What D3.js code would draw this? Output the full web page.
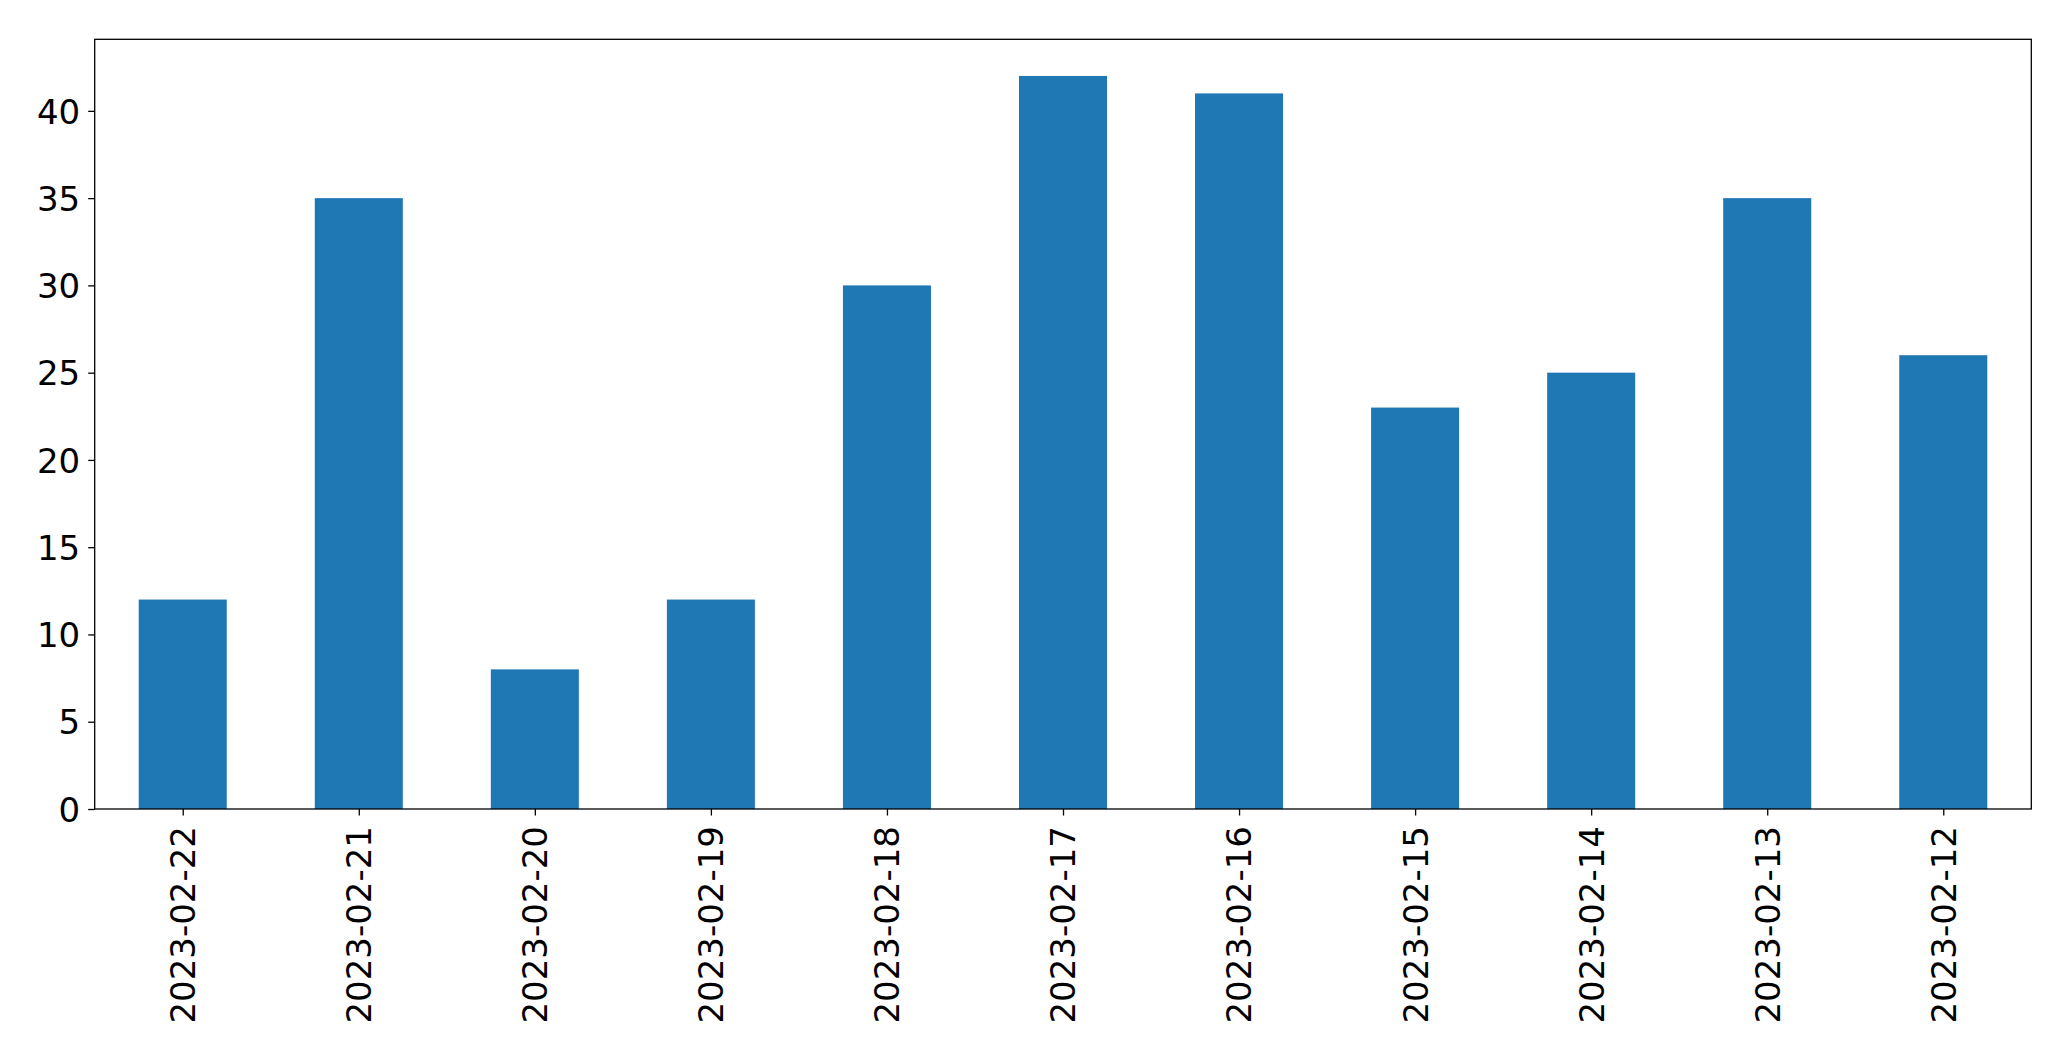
<!DOCTYPE html>
<html><head><meta charset="utf-8">
<script src="https://cdn.jsdelivr.net/npm/d3@7"></script>
<style>html,body{margin:0;padding:0;background:#fff;}svg{display:block;}</style>
</head><body>
<script>
const categories = ["2023-02-22","2023-02-21","2023-02-20","2023-02-19","2023-02-18","2023-02-17","2023-02-16","2023-02-15","2023-02-14","2023-02-13","2023-02-12"];
const values = [12, 35, 8, 12, 30, 42, 41, 23, 25, 35, 26];
const yTicks = [0, 5, 10, 15, 20, 25, 30, 35, 40];

const W = 2071, H = 1061;
const L = 94.7, R = 2031.3, T = 39.3, B = 809;
const svg = d3.select("body").append("svg").attr("width", W).attr("height", H);

const x = d3.scaleLinear().domain([-0.5, categories.length - 0.5]).range([L, R]);
const y = d3.scaleLinear().domain([0, d3.max(values) * 1.05]).range([B, T]);
const bw = 0.5;

svg.append("g").selectAll("rect").data(values).join("rect")
  .attr("x", (d, i) => x(i - bw / 2))
  .attr("width", (d, i) => x(i + bw / 2) - x(i - bw / 2))
  .attr("y", d => y(d))
  .attr("height", d => y(0) - y(d))
  .attr("fill", "#1f77b4");

const font = "DejaVu Sans";
const yAxis = d3.axisLeft(y).tickValues(yTicks).tickSize(6.5).tickPadding(8).tickFormat(d3.format("d"));
const gy = svg.append("g").attr("transform", `translate(${L},0)`).call(yAxis);
gy.select(".domain").remove();
gy.selectAll("line").attr("stroke", "#000").attr("stroke-width", 1.3);
gy.selectAll("text").attr("font-family", font).attr("font-size", 34).attr("fill", "#000").attr("dy", "0.36em");

const xAxis = d3.axisBottom(x).tickValues(d3.range(categories.length)).tickSize(6.5).tickFormat(i => categories[i]);
const gx = svg.append("g").attr("transform", `translate(0,${B})`).call(xAxis);
gx.select(".domain").remove();
gx.selectAll("line").attr("stroke", "#000").attr("stroke-width", 1.3);
gx.selectAll("text")
  .attr("font-family", font).attr("font-size", 34).attr("fill", "#000")
  .attr("text-anchor", "end")
  .attr("transform", "rotate(-90)")
  .attr("x", -17).attr("y", 0).attr("dy", "0.35em");

svg.append("rect").attr("x", L).attr("y", T).attr("width", R - L).attr("height", B - T)
  .attr("fill", "none").attr("stroke", "#000").attr("stroke-width", 1.3);
</script>
</body></html>
